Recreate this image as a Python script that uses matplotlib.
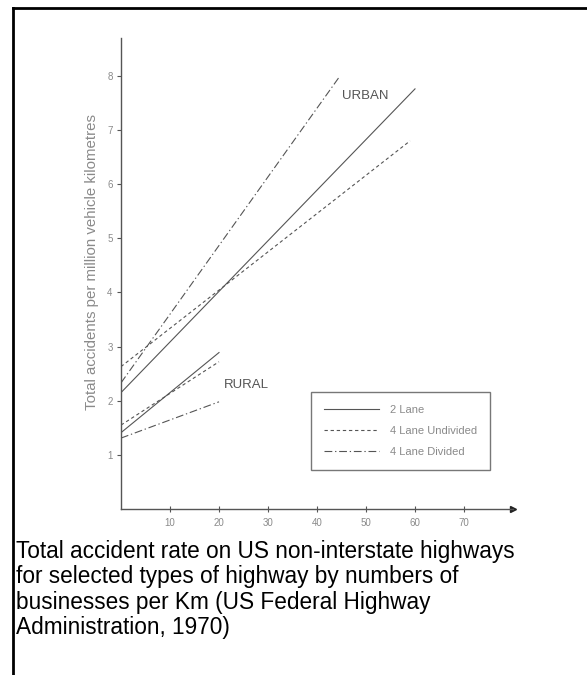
import matplotlib
matplotlib.use("Agg")
import matplotlib.pyplot as plt
from matplotlib.lines import Line2D

# businesses per km (start, end) and accident rates
urban_x = {"2 Lane": [0, 60], "4 Lane Undivided": [0, 59], "4 Lane Divided": [0, 44.7]}
urban_y = {"2 Lane": [2.15, 7.76], "4 Lane Undivided": [2.63, 6.8], "4 Lane Divided": [2.33, 8.0]}
rural_x = {"2 Lane": [0, 20], "4 Lane Undivided": [0, 20], "4 Lane Divided": [0, 20]}
rural_y = {"2 Lane": [1.41, 2.89], "4 Lane Undivided": [1.55, 2.72], "4 Lane Divided": [1.31, 1.98]}
series = ["2 Lane", "4 Lane Undivided", "4 Lane Divided"]
xticks = [10, 20, 30, 40, 50, 60, 70]
yticks = [1, 2, 3, 4, 5, 6, 7, 8]

styles = {"2 Lane": "-", "4 Lane Undivided": (0, (3, 2.5)), "4 Lane Divided": (0, (7, 2.5, 1.2, 2.5))}
dark = "#555555"
light = "#8a8a8a"

W, H = 587, 675
fig = plt.figure(figsize=(W / 100, H / 100), dpi=100)
plt.rcParams['font.family'] = ['Liberation Sans', 'DejaVu Sans']

ax = fig.add_axes([121 / W, (H - 509) / H, 392 / W, 471 / H])
ax.set_xlim(0, 80)
ax.set_ylim(0, 8.7)

for s in series:
    ax.plot(urban_x[s], urban_y[s], color=dark, lw=0.8, linestyle=styles[s])
    ax.plot(rural_x[s], rural_y[s], color=dark, lw=0.8, linestyle=styles[s])

ax.spines['top'].set_visible(False)
ax.spines['right'].set_visible(False)
ax.spines['left'].set_color(dark)
ax.spines['bottom'].set_color(dark)
ax.spines['left'].set_linewidth(1.0)
ax.spines['bottom'].set_linewidth(1.0)
ax.plot(1, 0, ">", color="#222222", markersize=5, transform=ax.transAxes, clip_on=False)

ax.set_xticks(xticks)
ax.set_yticks(yticks)
ax.tick_params(axis='both', direction='inout', length=5, width=0.8, color=dark,
               labelsize=7, labelcolor=light, pad=4)
ax.tick_params(axis='y', direction='out', length=3, pad=3)
ax.set_ylabel("Total accidents per million vehicle kilometres", fontsize=10.8, color=light)
ax.yaxis.set_label_coords(-0.057, 0.524)

ax.text(45.2, 7.62, "URBAN", fontsize=9.5, color=dark, va='center')
ax.text(20.9, 2.29, "RURAL", fontsize=9.5, color=dark, va='center')

handles = [Line2D([], [], color=dark, lw=0.8, linestyle=styles[s]) for s in series]
leg = ax.legend(handles, series, loc='upper left', bbox_to_anchor=(190 / 392, (509 - 392) / 471),
                borderaxespad=0, fontsize=8, frameon=True, fancybox=False, edgecolor=dark,
                handlelength=4.9, handletextpad=1.0, labelspacing=0.98, borderpad=1.2,
                labelcolor=light)
leg.get_frame().set_linewidth(1.0)

# page border (top and left)
fig.add_artist(Line2D([13 / W, 13 / W], [0, 1 - 8 / H], color='black', lw=2, transform=fig.transFigure))
fig.add_artist(Line2D([13 / W, 1], [1 - 8 / H, 1 - 8 / H], color='black', lw=2, transform=fig.transFigure))

caption = ("Total accident rate on US non-interstate highways\n"
           "for selected types of highway by numbers of\n"
           "businesses per Km (US Federal Highway\n"
           "Administration, 1970)")
fig.text(16 / W, 1 - 540 / H, caption, fontsize=16.3, color='black', va='top', ha='left',
         linespacing=1.13)

fig.savefig("out.png", dpi=100)
